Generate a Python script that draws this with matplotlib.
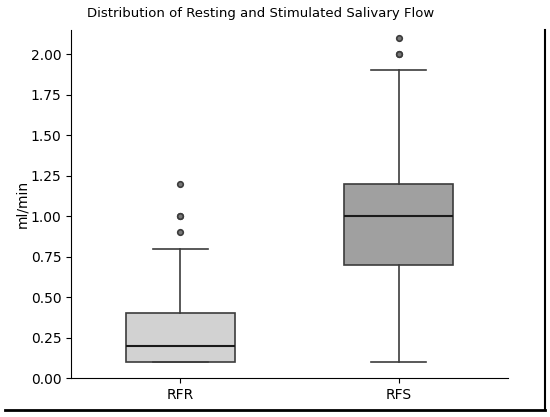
import matplotlib
matplotlib.use("Agg")
import matplotlib.pyplot as plt
from matplotlib.lines import Line2D

# values
groups = ["RFR", "RFS"]
q1 = [0.1, 0.7]
med = [0.2, 1.0]
q3 = [0.4, 1.2]
whislo = [0.1, 0.1]
whishi = [0.8, 1.9]
fliers = [[0.9, 1.0, 1.0, 1.2], [2.0, 2.0, 2.1]]
fills = ["#d2d2d2", "#a0a0a0"]

stats = []
for i, name in enumerate(groups):
    stats.append(dict(label=name, q1=q1[i], med=med[i], q3=q3[i],
                      whislo=whislo[i], whishi=whishi[i], fliers=fliers[i]))

fig = plt.figure(figsize=(5.5, 4.17), dpi=100)
ax = fig.add_axes([71 / 550, 1 - 378 / 417, 437 / 550, 348 / 417])

edge = "#3c3c3c"
bp = ax.bxp(stats, positions=range(len(groups)), widths=0.5, patch_artist=True,
            boxprops=dict(edgecolor=edge, linewidth=1.2),
            whiskerprops=dict(color=edge, linewidth=1.2),
            capprops=dict(color=edge, linewidth=1.2),
            medianprops=dict(color="#1a1a1a", linewidth=1.5),
            flierprops=dict(marker="o", markersize=4, markerfacecolor="#777777",
                            markeredgecolor=edge, markeredgewidth=1.2))
for patch, c in zip(bp["boxes"], fills):
    patch.set_facecolor(c)

ax.set_xlim(-0.5, 1.5)
ax.set_ylim(0, 2.15)
ax.set_yticks([0, 0.25, 0.5, 0.75, 1.0, 1.25, 1.5, 1.75, 2.0])
ax.set_yticklabels([f"{v:.2f}" for v in ax.get_yticks()])
ax.set_ylabel("ml/min", labelpad=1)
ax.spines["top"].set_visible(False)
ax.spines["right"].set_visible(False)

fig.text(261 / 550, 1 - 14 / 417, "Distribution of Resting and Stimulated Salivary Flow",
         ha="center", va="center", fontsize=9.5)

# partial frame around the figure
fig.add_artist(Line2D([5 / 550, 545 / 550], [1 - 410 / 417, 1 - 410 / 417],
                      color="black", linewidth=2, transform=fig.transFigure))
fig.add_artist(Line2D([545 / 550, 545 / 550], [1 - 410 / 417, 1 - 30 / 417],
                      color="black", linewidth=1.5, transform=fig.transFigure))

fig.savefig("out.png", dpi=100)
